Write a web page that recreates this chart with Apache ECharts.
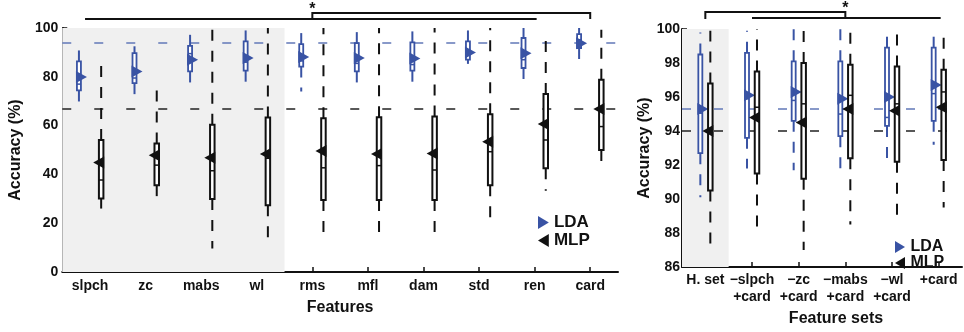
<!DOCTYPE html>
<html>
<head>
<meta charset="utf-8">
<script src="https://cdn.jsdelivr.net/npm/echarts@6/dist/echarts.min.js"></script>
<style>
  html, body { margin: 0; padding: 0; background: #fff; }
  #chart { width: 964px; height: 332px; }
</style>
</head>
<body>
<div id="chart"></div>
<script>
// left panel: single features
const featCats = ['slpch', 'zc', 'mabs', 'wl', 'rms', 'mfl', 'dam', 'std', 'ren', 'card']
const ldaMin = [68, 70.5, 74, 76.3, 74, 75.3, 75.3, 85.3, 78, 86.3]
const ldaQ1 = [74.4, 77.4, 82.2, 82.5, 84.2, 82.2, 82.5, 87, 83.6, 91.8]
const ldaMed = [77, 79.5, 89.5, 86, 86.5, 85.5, 85, 91, 87, 95.2]
const ldaQ3 = [86.3, 89.7, 92.7, 94.5, 93.4, 93.8, 94.1, 94.5, 95.9, 97.5]
const ldaMax = [90.8, 92.5, 99, 99, 98.6, 99, 99, 99, 100, 100]
const ldaMean = [79.9, 82.2, 87, 87.7, 88.1, 87.7, 87.5, 90, 89.7, 93.8]

const mlpMin = [26, 27, 9.6, 13.7, 15, 15, 15, 21.9, 33.3, 42.5]
const mlpQ1 = [30.1, 35.6, 29.9, 27.4, 29.5, 29.5, 29.5, 35.6, 42.5, 50]
const mlpMed = [37.7, 43.8, 41.5, 46.6, 42.7, 43.6, 41.8, 49.3, 54.1, 59.6]
const mlpQ3 = [54.1, 52.7, 60.3, 63.3, 63, 63.4, 63.7, 64.7, 73, 78.8]
const mlpMax = [84.9, 76.7, 100, 100, 100, 100, 100, 100, 98.6, 99.3]
const mlpMean = [44.9, 47.8, 46.8, 48.4, 49.6, 48.4, 48.6, 53.4, 60.7, 66.8]

// right panel: feature sets
const setCats = ['H. set', '\u2212slpch\n+card', '\u2212zc\n+card', '\u2212mabs\n+card', '\u2212wl\n+card', '+card']
const setLdaMin = [90.1, 91.8, 91.7, 91.8, 92.0, 93.2]
const setLdaQ1 = [92.7, 93.6, 94.6, 93.7, 94.3, 94.6]
const setLdaMed = [95.05, 95.9, 95.8, 95.0, 94.8, 96.2]
const setLdaQ3 = [98.5, 98.6, 98.1, 98.1, 98.9, 98.9]
const setLdaMax = [99.8, 99.9, 100, 100, 100, 100]
const setLdaMean = [95.3, 96.1, 96.3, 95.9, 96.0, 96.7]

const setMlpMin = [86.8, 87.9, 87.0, 88.5, 88.6, 89.5]
const setMlpQ1 = [90.5, 91.5, 91.2, 92.4, 92.2, 92.3]
const setMlpMed = [94.1, 95.4, 95.6, 96.1, 95.6, 96.3]
const setMlpQ3 = [96.8, 97.5, 98.0, 97.9, 97.8, 97.6]
const setMlpMax = [99.9, 100, 100, 100, 100, 100]
const setMlpMean = [94.0, 94.8, 94.5, 95.3, 95.2, 95.4]

// reference levels (best single feature / hand-picked set)
const featRef = { lda: 93.8, mlp: 66.8 }
const setRef = { lda: 95.3, mlp: 94.0 }

const BLUE = '#3953a4'
const BLUE_REF = '#6278b8'
const BLACK = '#111'
const FONT = 'Liberation Sans'

function rows (mins, q1s, meds, q3s, maxs, means) {
  return mins.map((v, i) => [i, v, q1s[i], meds[i], q3s[i], maxs[i], means[i]])
}

function boxRender (color, offset, boxW, lw, pointRight) {
  return function (params, api) {
    const idx = api.value(0)
    const band = api.size([1, 0])[0]
    const cx = api.coord([idx, 0])[0] + offset * band
    const y = k => api.coord([idx, api.value(k)])[1]
    const yMin = y(1), yQ1 = y(2), yMed = y(3), yQ3 = y(4), yMax = y(5), yMean = y(6)
    const dash = { stroke: color, lineWidth: 2, lineDash: [11, 10] }
    let tri
    if (pointRight) {
      tri = [[cx - 3, yMean - 6], [cx + 8, yMean], [cx - 3, yMean + 6]]
    } else {
      tri = [[cx + 3, yMean - 6], [cx - 8, yMean], [cx + 3, yMean + 6]]
    }
    return {
      type: 'group',
      children: [
        { type: 'line', shape: { x1: cx, y1: yQ3, x2: cx, y2: yMax }, style: dash },
        { type: 'line', shape: { x1: cx, y1: yQ1, x2: cx, y2: yMin }, style: dash },
        {
          type: 'rect',
          shape: { x: cx - boxW / 2, y: yQ3, width: boxW, height: yQ1 - yQ3 },
          style: { fill: '#fff', stroke: color, lineWidth: lw }
        },
        {
          type: 'line',
          shape: { x1: cx - boxW / 2, y1: yMed, x2: cx + boxW / 2, y2: yMed },
          style: { stroke: color, lineWidth: 1.5 }
        },
        { type: 'polygon', shape: { points: tri }, style: { fill: color } }
      ]
    }
  }
}

function shadeRender (params, api) {
  const band = api.size([1, 0])[0]
  const x0 = api.coord([api.value(0), api.value(2)])[0] - band / 2
  const x1 = api.coord([api.value(1), api.value(2)])[0] + band / 2
  const yTop = api.coord([0, api.value(3)])[1]
  const yBot = api.coord([0, api.value(2)])[1]
  return {
    type: 'rect',
    shape: { x: x0, y: yTop, width: x1 - x0, height: yBot - yTop },
    style: { fill: '#f0f0f0' }
  }
}

function refLines (lda, mlp) {
  return {
    silent: true,
    symbol: 'none',
    label: { show: false },
    z: 2,
    data: [
      { yAxis: lda, lineStyle: { color: BLUE_REF, type: [9, 23], width: 1.5 } },
      { yAxis: mlp, lineStyle: { color: '#222', type: [9, 23], width: 1.5 } }
    ]
  }
}

const axisLabelStyle = { color: BLACK, fontFamily: FONT, fontWeight: 'bold', fontSize: 14 }
const nameStyle = { color: BLACK, fontFamily: FONT, fontWeight: 'bold', fontSize: 16 }
const axisLine = { show: true, lineStyle: { color: BLACK, width: 2 } }
const axisTick = { show: true, inside: true, length: 5, lineStyle: { color: BLACK, width: 1.5 } }

const chart = echarts.init(document.getElementById('chart'), null, { renderer: 'canvas' })

const option = {
  animation: false,
  backgroundColor: '#fff',
  grid: [
    { left: 49, top: 28, width: 569, height: 244 },
    { left: 682, top: 29, width: 280, height: 243 }
  ],
  xAxis: [
    {
      type: 'category', gridIndex: 0, data: featCats, boundaryGap: true,
      axisLine: axisLine, axisTick: Object.assign({ alignWithLabel: true }, axisTick),
      axisLabel: Object.assign({ margin: 6, lineHeight: 17 }, axisLabelStyle),
      name: 'Features', nameLocation: 'middle', nameGap: 25, nameTextStyle: nameStyle,
      splitLine: { show: false }
    },
    {
      type: 'category', gridIndex: 1, data: setCats, boundaryGap: true,
      axisLine: axisLine, axisTick: Object.assign({ alignWithLabel: true }, axisTick),
      axisLabel: Object.assign({ margin: 5, lineHeight: 17, interval: 0 }, axisLabelStyle),
      name: 'Feature sets', nameLocation: 'middle', nameGap: 43,
      nameTextStyle: Object.assign({ padding: [0, 0, 0, 28] }, nameStyle),
      splitLine: { show: false }
    }
  ],
  yAxis: [
    {
      type: 'value', gridIndex: 0, min: 0, max: 100, interval: 20,
      axisLine: axisLine, axisTick: axisTick,
      axisLabel: Object.assign({ margin: 4 }, axisLabelStyle),
      name: 'Accuracy (%)', nameLocation: 'middle', nameGap: 31, nameTextStyle: nameStyle,
      splitLine: { show: false }
    },
    {
      type: 'value', gridIndex: 1, min: 86, max: 100, interval: 2,
      axisLine: axisLine, axisTick: axisTick,
      axisLabel: Object.assign({ margin: 2 }, axisLabelStyle),
      name: 'Accuracy (%)', nameLocation: 'middle', nameGap: 28, nameTextStyle: nameStyle,
      splitLine: { show: false }
    }
  ],
  legend: [
    {
      left: 538, top: 214, orient: 'vertical', itemGap: 1, padding: 0,
      itemWidth: 11, itemHeight: 13, selectedMode: false,
      textStyle: { color: BLACK, fontFamily: FONT, fontWeight: 'bold', fontSize: 17, lineHeight: 17 },
      data: [
        { name: 'LDA', icon: 'path://M0,0L10,6L0,12Z' },
        { name: 'MLP', icon: 'path://M10,0L0,6L10,12Z' }
      ]
    },
    {
      left: 895, top: 239, orient: 'vertical', itemGap: 0, padding: 0,
      itemWidth: 11, itemHeight: 12, selectedMode: false,
      textStyle: { color: BLACK, fontFamily: FONT, fontWeight: 'bold', fontSize: 16, lineHeight: 15.5 },
      data: [
        { name: 'LDA', icon: 'path://M0,0L10,6L0,12Z' },
        { name: 'MLP', icon: 'path://M10,0L0,6L10,12Z' }
      ]
    }
  ],
  series: [
    {
      type: 'custom', name: 'shade', xAxisIndex: 0, yAxisIndex: 0, z: 1, silent: true,
      renderItem: shadeRender, data: [[0, 3, 0, 100]], markLine: refLines(featRef.lda, featRef.mlp)
    },
    {
      type: 'custom', name: 'LDA', xAxisIndex: 0, yAxisIndex: 0, z: 3,
      itemStyle: { color: BLUE },
      renderItem: boxRender(BLUE, -0.2, 4, 1.8, true),
      data: rows(ldaMin, ldaQ1, ldaMed, ldaQ3, ldaMax, ldaMean)
    },
    {
      type: 'custom', name: 'MLP', xAxisIndex: 0, yAxisIndex: 0, z: 4,
      itemStyle: { color: BLACK },
      renderItem: boxRender(BLACK, 0.2, 4.5, 2, false),
      data: rows(mlpMin, mlpQ1, mlpMed, mlpQ3, mlpMax, mlpMean)
    },
    {
      type: 'custom', name: 'shade2', xAxisIndex: 1, yAxisIndex: 1, z: 1, silent: true,
      renderItem: shadeRender, data: [[0, 0, 86, 100]], markLine: refLines(setRef.lda, setRef.mlp)
    },
    {
      type: 'custom', name: 'LDA', xAxisIndex: 1, yAxisIndex: 1, z: 3,
      itemStyle: { color: BLUE },
      renderItem: boxRender(BLUE, -0.107, 4, 1.8, true),
      data: rows(setLdaMin, setLdaQ1, setLdaMed, setLdaQ3, setLdaMax, setLdaMean)
    },
    {
      type: 'custom', name: 'MLP', xAxisIndex: 1, yAxisIndex: 1, z: 4,
      itemStyle: { color: BLACK },
      renderItem: boxRender(BLACK, 0.107, 4.5, 2, false),
      data: rows(setMlpMin, setMlpQ1, setMlpMed, setMlpQ3, setMlpMax, setMlpMean)
    }
  ]
}

chart.setOption(option)

// significance brackets and the "H. set" note, placed from the axes
const px0 = c => chart.convertToPixel({ xAxisIndex: 0 }, c)
const px1 = c => chart.convertToPixel({ xAxisIndex: 1 }, c)
const py0 = v => chart.convertToPixel({ yAxisIndex: 0 }, v)
const stroke = { stroke: BLACK, lineWidth: 2, fill: null }
const star = (x, y) => ({
  type: 'text', x: x, y: y,
  style: { text: '*', fill: BLACK, font: 'bold 16px ' + FONT, align: 'center', verticalAlign: 'middle' }
})

chart.setOption({
  graphic: [
    { type: 'polyline', shape: { points: [[px0('slpch') - 5, 19], [px0('ren') + 2, 19]] }, style: stroke },
    { type: 'polyline', shape: { points: [[px0('rms'), 19], [px0('rms'), 13], [px0('card'), 13], [px0('card'), 19]] }, style: stroke },
    star(px0('rms'), 10),
    { type: 'polyline', shape: { points: [[px1(setCats[0]), 19], [px1(setCats[0]), 12], [px1(setCats[3]), 12], [px1(setCats[3]), 18]] }, style: stroke },
    { type: 'polyline', shape: { points: [[px1(setCats[1]), 18], [px1(setCats[5]) + 2, 18]] }, style: stroke },
    star(px1(setCats[3]), 9),
    {
      type: 'text',
      x: px0('zc') + 0.66 * (px0('mabs') - px0('zc')),
      y: py0(16),
      style: { text: 'H. set', fill: BLACK, font: 'bold 12px ' + FONT, align: 'center', verticalAlign: 'middle' }
    }
  ]
})
</script>
</body>
</html>
